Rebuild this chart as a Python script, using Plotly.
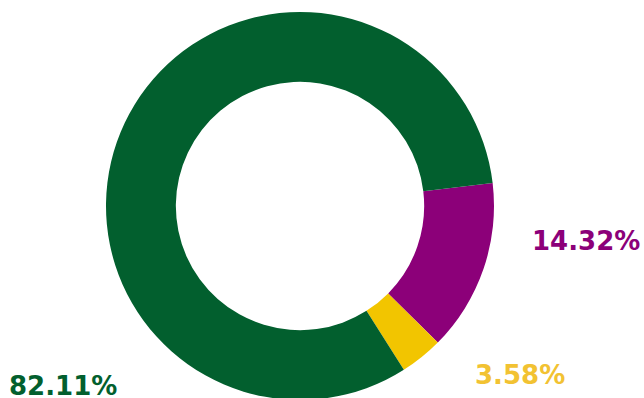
import plotly.graph_objects as go

# Share of each category (percent)
categories = ["Purple", "Yellow", "Green"]
shares = [14.32, 3.58, 82.11]
slice_colors = ["#8C0079", "#F2C500", "#025F2E"]
label_colors = ["#8C0079", "#F2C232", "#025F2E"]
label_pos = [(586, 241), (520, 375), (63, 386)]  # label centres in pixels

W, H = 644, 412

fig = go.Figure(
    go.Pie(
        labels=categories,
        values=shares,
        hole=0.64,
        sort=False,
        direction="clockwise",
        rotation=83.2,
        marker=dict(colors=slice_colors, line=dict(width=0)),
        textinfo="none",
        hoverinfo="label+percent",
        showlegend=False,
        domain=dict(x=[106 / W, 494 / W], y=[1 - 400 / H, 1 - 12 / H]),
    )
)

for val, col, (px, py) in zip(shares, label_colors, label_pos):
    fig.add_annotation(
        x=px / W, y=1 - py / H, xref="paper", yref="paper",
        text=f"<b>{val:.2f}%</b>", showarrow=False,
        xanchor="center", yanchor="middle",
        font=dict(family="DejaVu Sans", size=26, color=col),
    )

fig.update_layout(
    width=W, height=H,
    margin=dict(l=0, r=0, t=0, b=0),
    paper_bgcolor="white", plot_bgcolor="white",
)

fig.write_html(
    "out.html",
    post_script="document.documentElement.style.overflow='hidden';document.body.style.overflow='hidden';",
)
